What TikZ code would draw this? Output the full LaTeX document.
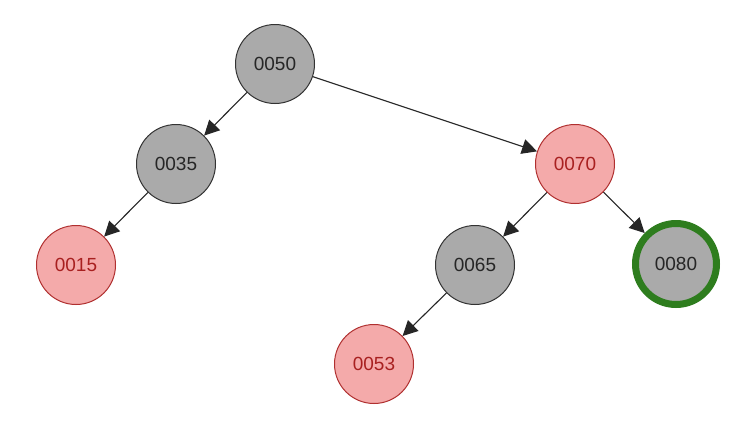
\documentclass[tikz,border=0pt]{standalone}
\usepackage{fontspec}
\setmainfont{Liberation Sans}
\usetikzlibrary{arrows.meta}
\definecolor{nodegray}{HTML}{AAAAAA}
\definecolor{nodered}{HTML}{F4AAAA}
\definecolor{edgered}{HTML}{B03030}
\definecolor{textred}{HTML}{A82020}
\definecolor{pathgreen}{HTML}{2E7D1E}
\tikzset{
  blacknode/.style={circle, draw=black!80, fill=nodegray, line width=1pt,
    minimum size=79pt, inner sep=0pt, text=black!85, font=\fontsize{19}{22}\selectfont},
  rednode/.style={blacknode, draw=edgered, fill=nodered, text=textred},
  found/.style={draw=pathgreen, line width=7pt, minimum size=81pt},
  link/.style={-{Triangle[length=15pt,width=15pt]}, line width=1.1pt, black!85}
}
\begin{document}
\begin{tikzpicture}[x=1pt, y=-1pt]
\useasboundingbox[fill=white] (0,0) rectangle (748,432);
\node[blacknode] (n50) at (275,64) {0050};
\node[blacknode] (n35) at (176,164) {0035};
\node[rednode]   (n70) at (575,164) {0070};
\node[rednode]   (n15) at (76,265) {0015};
\node[blacknode] (n65) at (475,265) {0065};
\node[blacknode, found] (n80) at (676,264) {0080};
\node[rednode]   (n53) at (374,364) {0053};
\draw[link] (n50) -- (n35);
\draw[link] (n50) -- (n70);
\draw[link] (n35) -- (n15);
\draw[link] (n70) -- (n65);
\draw[link] (n70) -- (n80);
\draw[link] (n65) -- (n53);
\end{tikzpicture}
\end{document}
